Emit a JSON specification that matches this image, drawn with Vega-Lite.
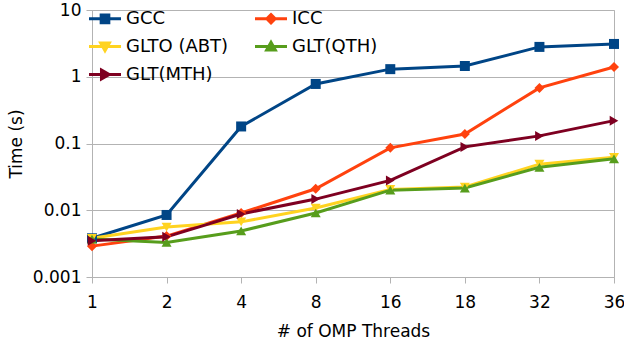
{
  "$schema": "https://vega.github.io/schema/vega-lite/v6.json",
  "width": 522,
  "height": 267,
  "autosize": {"type": "none"},
  "padding": {"left": 92, "top": 10, "right": 10, "bottom": 66},
  "background": "white",
  "config": {
    "font": "DejaVu Sans",
    "view": {"stroke": "#b3b3b3", "strokeWidth": 1},
    "axis": {
      "labelFont": "DejaVu Sans",
      "titleFont": "DejaVu Sans",
      "labelFontSize": 17,
      "titleFontSize": 17,
      "titleFontWeight": "normal",
      "labelColor": "#000000",
      "titleColor": "#000000",
      "domainColor": "#b3b3b3",
      "tickColor": "#b3b3b3",
      "gridColor": "#b3b3b3",
      "tickSize": 6
    },
    "legend": {"labelFont": "DejaVu Sans"}
  },
  "data": {
    "values": [
      {"threads": 1, "series": "GCC", "time": 0.0038},
      {"threads": 2, "series": "GCC", "time": 0.0085},
      {"threads": 4, "series": "GCC", "time": 0.18},
      {"threads": 8, "series": "GCC", "time": 0.78},
      {"threads": 16, "series": "GCC", "time": 1.3},
      {"threads": 18, "series": "GCC", "time": 1.45},
      {"threads": 32, "series": "GCC", "time": 2.8},
      {"threads": 36, "series": "GCC", "time": 3.1},
      {"threads": 1, "series": "ICC", "time": 0.0029},
      {"threads": 2, "series": "ICC", "time": 0.0041},
      {"threads": 4, "series": "ICC", "time": 0.0091},
      {"threads": 8, "series": "ICC", "time": 0.021},
      {"threads": 16, "series": "ICC", "time": 0.086},
      {"threads": 18, "series": "ICC", "time": 0.139},
      {"threads": 32, "series": "ICC", "time": 0.68},
      {"threads": 36, "series": "ICC", "time": 1.4},
      {"threads": 1, "series": "GLTO (ABT)", "time": 0.0038},
      {"threads": 2, "series": "GLTO (ABT)", "time": 0.0056},
      {"threads": 4, "series": "GLTO (ABT)", "time": 0.0067},
      {"threads": 8, "series": "GLTO (ABT)", "time": 0.0108},
      {"threads": 16, "series": "GLTO (ABT)", "time": 0.0205},
      {"threads": 18, "series": "GLTO (ABT)", "time": 0.0223},
      {"threads": 32, "series": "GLTO (ABT)", "time": 0.049},
      {"threads": 36, "series": "GLTO (ABT)", "time": 0.062},
      {"threads": 1, "series": "GLT(QTH)", "time": 0.0037},
      {"threads": 2, "series": "GLT(QTH)", "time": 0.0033},
      {"threads": 4, "series": "GLT(QTH)", "time": 0.0049},
      {"threads": 8, "series": "GLT(QTH)", "time": 0.0091},
      {"threads": 16, "series": "GLT(QTH)", "time": 0.020},
      {"threads": 18, "series": "GLT(QTH)", "time": 0.0215},
      {"threads": 32, "series": "GLT(QTH)", "time": 0.044},
      {"threads": 36, "series": "GLT(QTH)", "time": 0.059},
      {"threads": 1, "series": "GLT(MTH)", "time": 0.0035},
      {"threads": 2, "series": "GLT(MTH)", "time": 0.0040},
      {"threads": 4, "series": "GLT(MTH)", "time": 0.0088},
      {"threads": 8, "series": "GLT(MTH)", "time": 0.0147},
      {"threads": 16, "series": "GLT(MTH)", "time": 0.028},
      {"threads": 18, "series": "GLT(MTH)", "time": 0.089},
      {"threads": 32, "series": "GLT(MTH)", "time": 0.13},
      {"threads": 36, "series": "GLT(MTH)", "time": 0.22}
    ]
  },
  "encoding": {
    "x": {
      "field": "threads",
      "type": "ordinal",
      "scale": {"type": "point", "padding": 0},
      "axis": {"labelAngle": 0, "title": "# of OMP Threads", "grid": false, "labelPadding": 11, "titlePadding": 13}
    },
    "y": {
      "field": "time",
      "type": "quantitative",
      "scale": {"type": "log", "domain": [0.001, 10]},
      "axis": {"values": [0.001, 0.01, 0.1, 1, 10], "format": "~g", "title": "Time (s)", "grid": true, "labelPadding": 5, "titlePadding": 7}
    },
    "color": {
      "field": "series",
      "type": "nominal",
      "scale": {
        "domain": ["GCC", "ICC", "GLTO (ABT)", "GLT(QTH)", "GLT(MTH)"],
        "range": ["#004586", "#ff420e", "#ffd320", "#579d1c", "#7e0021"]
      },
      "legend": {
        "orient": "none",
        "direction": "horizontal",
        "legendX": -4.5,
        "legendY": -9,
        "columns": 2,
        "title": null,
        "padding": 0,
        "labelFontSize": 18,
        "labelColor": "#000000",
        "symbolSize": 1024,
        "symbolStrokeWidth": 3,
        "symbolOpacity": 1,
        "labelOffset": 3.5,
        "columnPadding": 20,
        "rowPadding": -8,
        "encode": {
          "symbols": {
            "update": {
              "shape": {"signal": "datum.value === 'GCC' ? 'M-1,0H1M-0.24,-0.24H0.24V0.24H-0.24Z' : datum.value === 'ICC' ? 'M-1,0H1M0,-0.26L0.26,0L0,0.26L-0.26,0Z' : datum.value === 'GLTO (ABT)' ? 'M-1,0H1M-0.27,-0.22H0.27L0,0.26Z' : datum.value === 'GLT(QTH)' ? 'M-1,0H1M-0.27,0.22H0.27L0,-0.26Z' : 'M-1,0H1M-0.22,-0.27L0.26,0L-0.22,0.27Z'"},
              "fill": {"scale": "color", "field": "value"},
              "stroke": {"scale": "color", "field": "value"},
              "strokeWidth": {"value": 3},
              "opacity": {"value": 1}
            }
          }
        }
      }
    }
  },
  "layer": [
    {"mark": {"type": "line", "strokeWidth": 3}},
    {
      "mark": {"type": "point", "filled": true, "opacity": 1, "size": 100},
      "encoding": {
        "shape": {
          "field": "series",
          "type": "nominal",
          "scale": {
            "range": ["square", "triangle-right", "triangle-up", "triangle-down", "diamond"]
          },
          "legend": null
        }
      }
    }
  ]
}
